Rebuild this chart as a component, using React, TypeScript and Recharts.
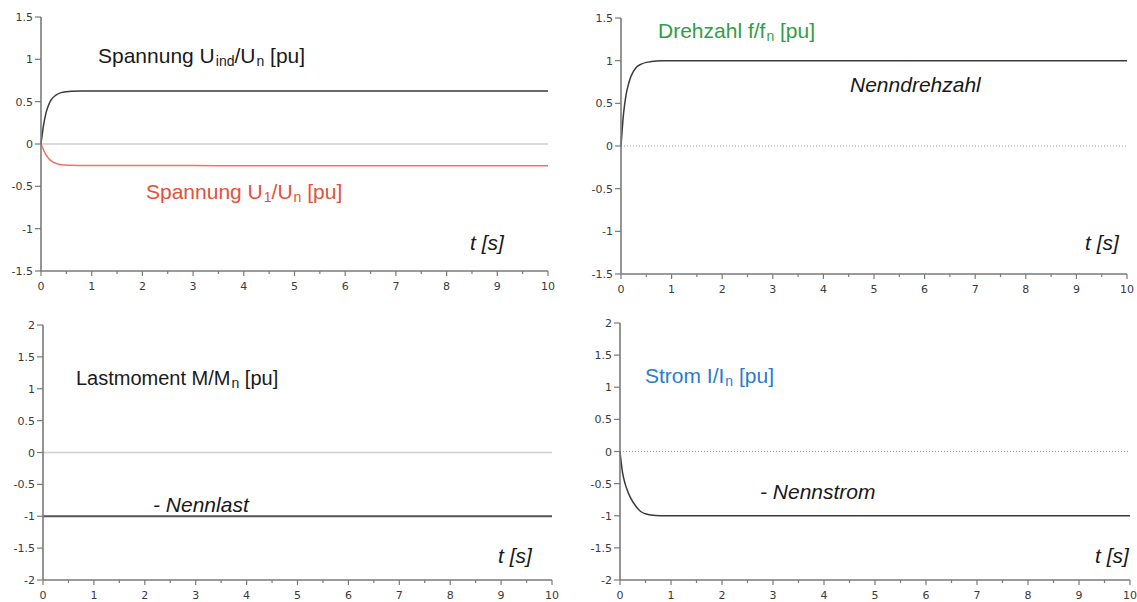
import { LineChart, Line, XAxis, YAxis, ReferenceLine } from 'recharts';

// time samples [s]
const times = [0, 0.05, 0.1, 0.15, 0.2, 0.3, 0.4, 0.5, 0.6, 0.8, 1, 2, 3, 4, 5, 6, 7, 8, 9, 10];

const uInd = [0, 0.22, 0.37, 0.46, 0.52, 0.58, 0.607, 0.618, 0.623, 0.625, 0.625, 0.625, 0.625, 0.625, 0.625, 0.625, 0.625, 0.625, 0.625, 0.625];
const u1 = [0, -0.07, -0.13, -0.17, -0.2, -0.23, -0.245, -0.25, -0.252, -0.253, -0.254, -0.255, -0.255, -0.256, -0.256, -0.257, -0.257, -0.258, -0.258, -0.258];
const speed = [0, 0.38, 0.6, 0.73, 0.82, 0.92, 0.96, 0.98, 0.99, 1, 1, 1, 1, 1, 1, 1, 1, 1, 1, 1];
const load = [-1, -1, -1, -1, -1, -1, -1, -1, -1, -1, -1, -1, -1, -1, -1, -1, -1, -1, -1, -1];
const current = [0, -0.33, -0.5, -0.62, -0.71, -0.84, -0.93, -0.97, -0.99, -1, -1, -1, -1, -1, -1, -1, -1, -1, -1, -1];

const xTicks = [0, 0.5, 1, 1.5, 2, 2.5, 3, 3.5, 4, 4.5, 5, 5.5, 6, 6.5, 7, 7.5, 8, 8.5, 9, 9.5, 10];
const yTicks15 = [-1.5, -1, -0.5, 0, 0.5, 1, 1.5];
const yTicks2 = [-2, -1.5, -1, -0.5, 0, 0.5, 1, 1.5, 2];

const AXIS = '#7a7a7a';
const CURVE = '#3a3a3a';
const TICKFONT = '"DejaVu Sans", sans-serif';

const topData = times.map((t, i) => ({ t, uInd: uInd[i], u1: u1[i], speed: speed[i] }));
const bottomData = times.map((t, i) => ({ t, load: load[i], current: current[i] }));

function XTick(props: any) {
  const { x, y, payload } = props;
  const major = Number.isInteger(payload.value);
  return (
    <g>
      <line x1={x} x2={x} y1={y} y2={y + (major ? 5 : 3)} stroke={AXIS} strokeWidth={1.2} />
      {major && (
        <text x={x} y={y + 19} textAnchor="middle" fontSize={11} fill="#3a3a3a" fontFamily={TICKFONT}>
          {payload.value}
        </text>
      )}
    </g>
  );
}

function YTick(props: any) {
  const { x, y, payload } = props;
  return (
    <g>
      <line x1={x - 6} x2={x} y1={y} y2={y} stroke={AXIS} strokeWidth={1.2} />
      <text x={x - 8} y={y + 4} textAnchor="end" fontSize={11} fill="#3a3a3a" fontFamily={TICKFONT}>
        {payload.value}
      </text>
    </g>
  );
}

interface PanelProps {
  left: number;
  top: number;
  w: number;
  h: number;
  data: any[];
  keys: { key: string; color: string; width?: number }[];
  yMax: number;
  yTicks: number[];
  dottedZero: boolean;
}

function Panel({ left, top, w, h, data, keys, yMax, yTicks, dottedZero }: PanelProps) {
  return (
    <div style={{ position: 'absolute', left: left - 40, top: top - 10 }}>
      <LineChart width={w + 50} height={h + 40} data={data} margin={{ top: 10, right: 10, left: 0, bottom: 0 }}>
        <XAxis
          dataKey="t"
          type="number"
          domain={[0, 10]}
          ticks={xTicks}
          interval={0}
          height={30}
          tickSize={0}
          tickMargin={0}
          tickLine={false}
          tick={<XTick />}
          axisLine={{ stroke: AXIS, strokeWidth: 1.6 }}
        />
        <YAxis
          type="number"
          domain={[-yMax, yMax]}
          ticks={yTicks}
          interval={0}
          width={40}
          tickSize={0}
          tickMargin={0}
          tickLine={false}
          tick={<YTick />}
          axisLine={{ stroke: AXIS, strokeWidth: 1.6 }}
        />
        <ReferenceLine
          y={0}
          stroke={dottedZero ? '#999' : '#cfcfcf'}
          strokeWidth={dottedZero ? 1 : 1.5}
          strokeDasharray={dottedZero ? '1 2' : undefined}
        />
        {keys.map((k) => (
          <Line
            key={k.key}
            type="monotone"
            dataKey={k.key}
            stroke={k.color}
            strokeWidth={k.width ?? 1.5}
            dot={false}
            isAnimationActive={false}
          />
        ))}
      </LineChart>
    </div>
  );
}

const label = (left: number, center: number, color: string, italic: boolean, content: any, size = 21) => (
  <div
    style={{
      position: 'absolute',
      left,
      top: center - 11,
      lineHeight: '22px',
      fontSize: size,
      fontFamily: '"Liberation Sans", Arial, sans-serif',
      fontStyle: italic ? 'italic' : 'normal',
      color,
      whiteSpace: 'nowrap',
    }}
  >
    {content}
  </div>
);

const sub = (s: string) => (
  <span style={{ fontSize: 14, position: 'relative', top: 3, marginLeft: 1 }}>{s}</span>
);

export default function App() {
  return (
    <div style={{ position: 'absolute', left: 0, top: 0, width: 1137, height: 602, background: '#fff', overflow: 'hidden' }}>
      <Panel left={41} top={17} w={507} h={254} data={topData}
        keys={[{ key: 'u1', color: '#f3745f' }, { key: 'uInd', color: CURVE }]}
        yMax={1.5} yTicks={yTicks15} dottedZero={false} />
      <Panel left={621} top={18} w={506} h={256} data={topData}
        keys={[{ key: 'speed', color: CURVE }]}
        yMax={1.5} yTicks={yTicks15} dottedZero={true} />
      <Panel left={43} top={325} w={509} h={255} data={bottomData}
        keys={[{ key: 'load', color: '#555', width: 1.8 }]}
        yMax={2} yTicks={yTicks2} dottedZero={false} />
      <Panel left={620} top={323} w={510} h={257} data={bottomData}
        keys={[{ key: 'current', color: CURVE }]}
        yMax={2} yTicks={yTicks2} dottedZero={true} />

      {label(98, 56, '#1a1a1a', false, <>Spannung U{sub('ind')}/U{sub('n')} [pu]</>)}
      {label(146, 192, '#e4503a', false, <>Spannung U{sub('1')}/U{sub('n')} [pu]</>)}
      {label(470, 243, '#1a1a1a', true, 't [s]')}

      {label(658, 31, '#2f9e45', false, <>Drehzahl f/f{sub('n')} [pu]</>)}
      {label(850, 85, '#1a1a1a', true, 'Nenndrehzahl')}
      {label(1085, 243, '#1a1a1a', true, 't [s]')}

      {label(76, 378, '#1a1a1a', false, <>Lastmoment M/M{sub('n')} [pu]</>, 20)}
      {label(153, 505, '#1a1a1a', true, '- Nennlast')}
      {label(498, 556, '#1a1a1a', true, 't [s]')}

      {label(645, 376, '#2b7bd0', false, <>Strom I/I{sub('n')} [pu]</>)}
      {label(760, 492, '#1a1a1a', true, '- Nennstrom')}
      {label(1095, 556, '#1a1a1a', true, 't [s]')}
    </div>
  );
}
